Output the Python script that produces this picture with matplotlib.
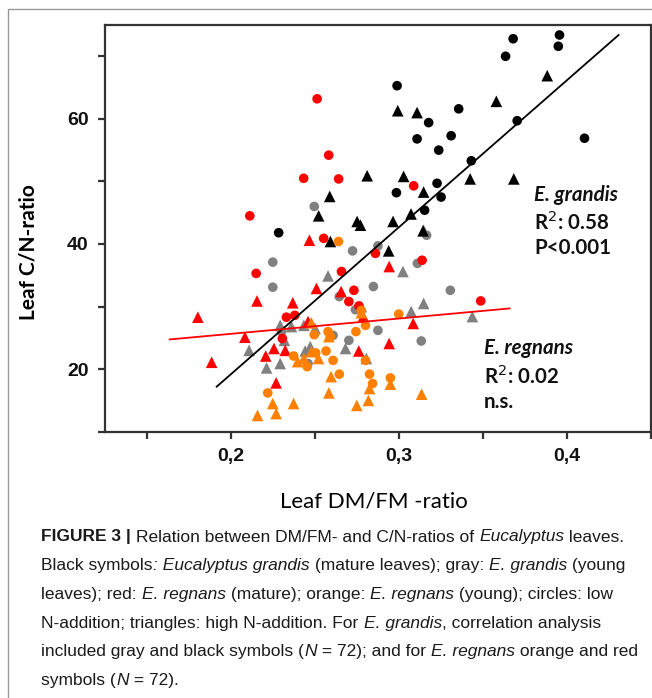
import matplotlib.pyplot as plt
from matplotlib.patches import Rectangle
from matplotlib.ticker import FixedLocator, FuncFormatter

# E. grandis mature (black)
black_circ_x = [0.2988, 0.3355, 0.3176, 0.3107, 0.3310, 0.3236, 0.3430, 0.2984, 0.3226,
                0.3250, 0.3152, 0.3679, 0.3955, 0.3948, 0.3634, 0.3703, 0.4104, 0.2283]
black_circ_y = [65.3, 61.6, 59.4, 56.8, 57.3, 55.0, 53.3, 48.2, 49.7,
                47.5, 45.4, 72.8, 73.4, 71.6, 70.0, 59.7, 56.9, 41.8]
black_tri_x = [0.2992, 0.3107, 0.3579, 0.3882, 0.3683, 0.3423, 0.2810, 0.3027, 0.3146,
               0.2587, 0.2521, 0.2750, 0.2770, 0.2964, 0.3071, 0.3143, 0.2591, 0.2938]
black_tri_y = [61.3, 61.0, 62.8, 66.9, 50.4, 50.4, 50.9, 50.8, 48.3,
               47.6, 44.5, 43.6, 43.0, 43.6, 44.8, 42.1, 40.4, 38.9]

# E. grandis young (gray)
gray_circ_x = [0.2495, 0.2248, 0.2248, 0.2723, 0.2874, 0.3109, 0.3164, 0.2847, 0.3305,
               0.3132, 0.2701, 0.2644, 0.2874, 0.2607, 0.2458, 0.2740, 0.2300]
gray_circ_y = [46.0, 37.1, 33.1, 38.9, 39.7, 36.9, 41.4, 33.2, 32.6,
               24.5, 24.6, 31.6, 26.2, 25.4, 20.9, 29.5, 26.0]
gray_tri_x = [0.2577, 0.3023, 0.3146, 0.3072, 0.3436, 0.2107, 0.2211, 0.2292, 0.2292,
              0.2359, 0.2441, 0.2471, 0.2681, 0.2805, 0.2433, 0.2317, 0.3146, 0.2775, 0.2500]
gray_tri_y = [34.9, 35.6, 30.5, 29.2, 28.4, 23.0, 20.2, 20.9, 27.0,
              26.8, 22.9, 23.6, 23.3, 21.7, 27.0, 24.6, 42.2, 30.0, 26.5]

# E. regnans mature (red)
red_circ_x = [0.2512, 0.2581, 0.2432, 0.2640, 0.3087, 0.2551, 0.3137, 0.2859, 0.2111,
              0.2149, 0.2657, 0.2731, 0.2701, 0.2761, 0.3486, 0.2329, 0.2379, 0.2305]
red_circ_y = [63.2, 54.2, 50.5, 50.4, 49.3, 40.9, 37.4, 38.5, 44.5,
              35.3, 35.6, 32.6, 30.8, 30.1, 30.9, 28.3, 28.6, 24.9]
red_tri_x = [0.2466, 0.2941, 0.1802, 0.1884, 0.2082, 0.2154, 0.2206, 0.2255, 0.2268,
             0.2322, 0.2367, 0.2458, 0.2508, 0.2655, 0.2760, 0.2941, 0.3084, 0.2787]
red_tri_y = [40.6, 36.4, 28.3, 21.1, 25.1, 30.9, 22.1, 23.3, 17.8,
             23.0, 30.6, 27.6, 32.9, 32.4, 22.9, 24.1, 27.3, 28.4]

# E. regnans young (orange)
orange_circ_x = [0.2639, 0.2998, 0.2775, 0.2800, 0.2743, 0.2495, 0.2577, 0.2590, 0.2372,
                 0.2453, 0.2503, 0.2565, 0.2607, 0.2644, 0.2800, 0.2824, 0.2842, 0.2948, 0.2218]
orange_circ_y = [40.4, 28.8, 29.4, 27.0, 26.0, 25.5, 26.0, 25.2, 22.1,
                 20.4, 22.6, 22.9, 21.4, 19.2, 21.4, 19.2, 17.7, 18.6, 16.2]
orange_tri_x = [0.2157, 0.2248, 0.2268, 0.2372, 0.2396, 0.2478, 0.2478, 0.2520, 0.2582,
                0.2595, 0.2582, 0.2748, 0.2817, 0.2824, 0.2948, 0.3134, 0.2775, 0.2433]
orange_tri_y = [12.6, 14.5, 12.9, 14.5, 21.2, 22.8, 27.4, 21.7, 25.2,
                18.8, 16.2, 14.2, 15.0, 16.9, 17.6, 16.0, 29.0, 21.7]

# regression lines
grandis_fit_x = [0.1914, 0.4307]
grandis_fit_y = [17.2, 73.4]
regnans_fit_x = [0.1634, 0.3658]
regnans_fit_y = [24.75, 29.7]

x_ticks = [0.15, 0.2, 0.25, 0.3, 0.35, 0.4, 0.45]
x_labeled = [0.2, 0.3, 0.4]
y_ticks = [10, 20, 30, 40, 50, 60, 70]
y_labeled = [20, 40, 60]

fig = plt.figure(figsize=(6.52, 6.98), dpi=100)
ax = fig.add_axes([0.1613, 0.3815, 0.8372, 0.5827])

C_BLACK, C_GRAY, C_RED, C_ORANGE = '#000000', '#808080', '#ff0000', '#ff8000'
S_CIRC, S_TRI = 48, 70
groups = [
    (gray_circ_x, gray_circ_y, C_GRAY, 'o', S_CIRC),
    (gray_tri_x, gray_tri_y, C_GRAY, '^', S_TRI),
    (black_circ_x, black_circ_y, C_BLACK, 'o', S_CIRC),
    (black_tri_x, black_tri_y, C_BLACK, '^', S_TRI),
    (red_circ_x, red_circ_y, C_RED, 'o', S_CIRC),
    (red_tri_x, red_tri_y, C_RED, '^', S_TRI),
    (orange_circ_x, orange_circ_y, C_ORANGE, 'o', S_CIRC),
    (orange_tri_x, orange_tri_y, C_ORANGE, '^', S_TRI),
]
for gx, gy, col, mk, s in groups:
    ax.scatter(gx, gy, s=s, marker=mk, color=col, edgecolors='none', zorder=2)

ax.plot(grandis_fit_x, grandis_fit_y, color='black', lw=1.3, zorder=3)
ax.plot(regnans_fit_x, regnans_fit_y, color='#ff0000', lw=1.3, zorder=3)

ax.set_xlim(0.125, 0.45)
ax.set_ylim(10, 75)
for sp in ax.spines.values():
    sp.set_color('#333333')
    sp.set_linewidth(1.6)

ax.xaxis.set_major_locator(FixedLocator(x_ticks))
ax.yaxis.set_major_locator(FixedLocator(y_ticks))
ax.xaxis.set_major_formatter(FuncFormatter(
    lambda v, p: f'{v:.1f}'.replace('.', ',') if any(abs(v - t) < 1e-9 for t in x_labeled) else ''))
ax.yaxis.set_major_formatter(FuncFormatter(
    lambda v, p: f'{v:.0f}' if any(abs(v - t) < 1e-9 for t in y_labeled) else ''))
ax.tick_params(direction='out', length=5, width=1.6, color='#333333')
ax.tick_params(axis='x', pad=6.5)
ax.tick_params(axis='y', pad=7)
for lab in ax.get_xticklabels() + ax.get_yticklabels():
    lab.set_fontfamily('Liberation Sans')
    lab.set_fontweight('bold')
    lab.set_fontsize(14)
    lab.set_color('#111111')

ax.set_ylabel('Leaf C/N-ratio', family='Lato', weight='bold', size=15)
ax.yaxis.set_label_coords(-0.122, 0.442)
ax.set_xlabel('Leaf DM/FM -ratio', family='Lato', size=16)
ax.xaxis.set_label_coords(0.492, -0.146)

ann = dict(family='Lato', weight='bold', size=14.8, va='center', ha='left', color='#111111')
ax.text(0.3805, 47.8, 'E. grandis', style='italic', **ann)
ax.text(0.3805, 43.5, 'R$^2$: 0.58', **ann)
ax.text(0.3805, 39.4, 'P<0.001', **ann)
ax.text(0.3505, 23.4, 'E. regnans', style='italic', **ann)
ax.text(0.3505, 18.9, 'R$^2$: 0.02', **ann)
ax.text(0.3505, 14.7, 'n.s.', **ann)

# outer frame of the figure panel
fig.patches.append(Rectangle((7.5 / 652, -0.01), 1.2, 1 - 9.3 / 698 + 0.01,
                             transform=fig.transFigure, fill=False,
                             edgecolor='#999999', lw=1.0))

# caption with mixed styles, laid out run by run
cap_lines = [
    [('FIGURE 3 | ', 'bold'), ('Relation between DM/FM- and C/N-ratios of ', 'normal'),
     ('Eucalyptus', 'italic'), (' leaves.', 'normal')],
    [('Black symbols', 'normal'), (': Eucalyptus grandis', 'italic'),
     (' (mature leaves); gray: ', 'normal'), ('E. grandis', 'italic'), (' (young', 'normal')],
    [('leaves); red: ', 'normal'), ('E. regnans', 'italic'), (' (mature); orange: ', 'normal'),
     ('E. regnans', 'italic'), (' (young); circles: low', 'normal')],
    [('N-addition; triangles: high N-addition. For ', 'normal'), ('E. grandis', 'italic'),
     (', correlation analysis', 'normal')],
    [('included gray and black symbols (', 'normal'), ('N', 'italic'), (' = 72); and for ', 'normal'),
     ('E. regnans', 'italic'), (' orange and red', 'normal')],
    [('symbols (', 'normal'), ('N', 'italic'), (' = 72).', 'normal')],
]
renderer = fig.canvas.get_renderer()


def run_style(style, size):
    kw = dict(family='Liberation Sans', size=size)
    if style == 'bold':
        kw['weight'] = 'bold'
    elif style == 'italic':
        kw['style'] = 'italic'
    return kw


def run_width(s, style, size):
    kw = run_style(style, size)
    t1 = fig.text(0, 0, s + 'x', **kw)
    t2 = fig.text(0, 0, 'x', **kw)
    w = t1.get_window_extent(renderer).width - t2.get_window_extent(renderer).width
    t1.remove()
    t2.remove()
    return w


# fit the longest caption line to the width it has in the original
ref_size = 14
longest = sum(run_width(s, st, ref_size) for s, st in cap_lines[4])
cap_size = ref_size * 598 / longest

y0 = 537
for i, line in enumerate(cap_lines):
    xpx = 41.5
    ypx = y0 + i * 28.7
    for s, style in line:
        fig.text(xpx / 652, 1 - ypx / 698, s, va='center', ha='left',
                 color='#1a1a1a', **run_style(style, cap_size))
        xpx += run_width(s, style, cap_size)

fig.savefig('out.png', dpi=100)
